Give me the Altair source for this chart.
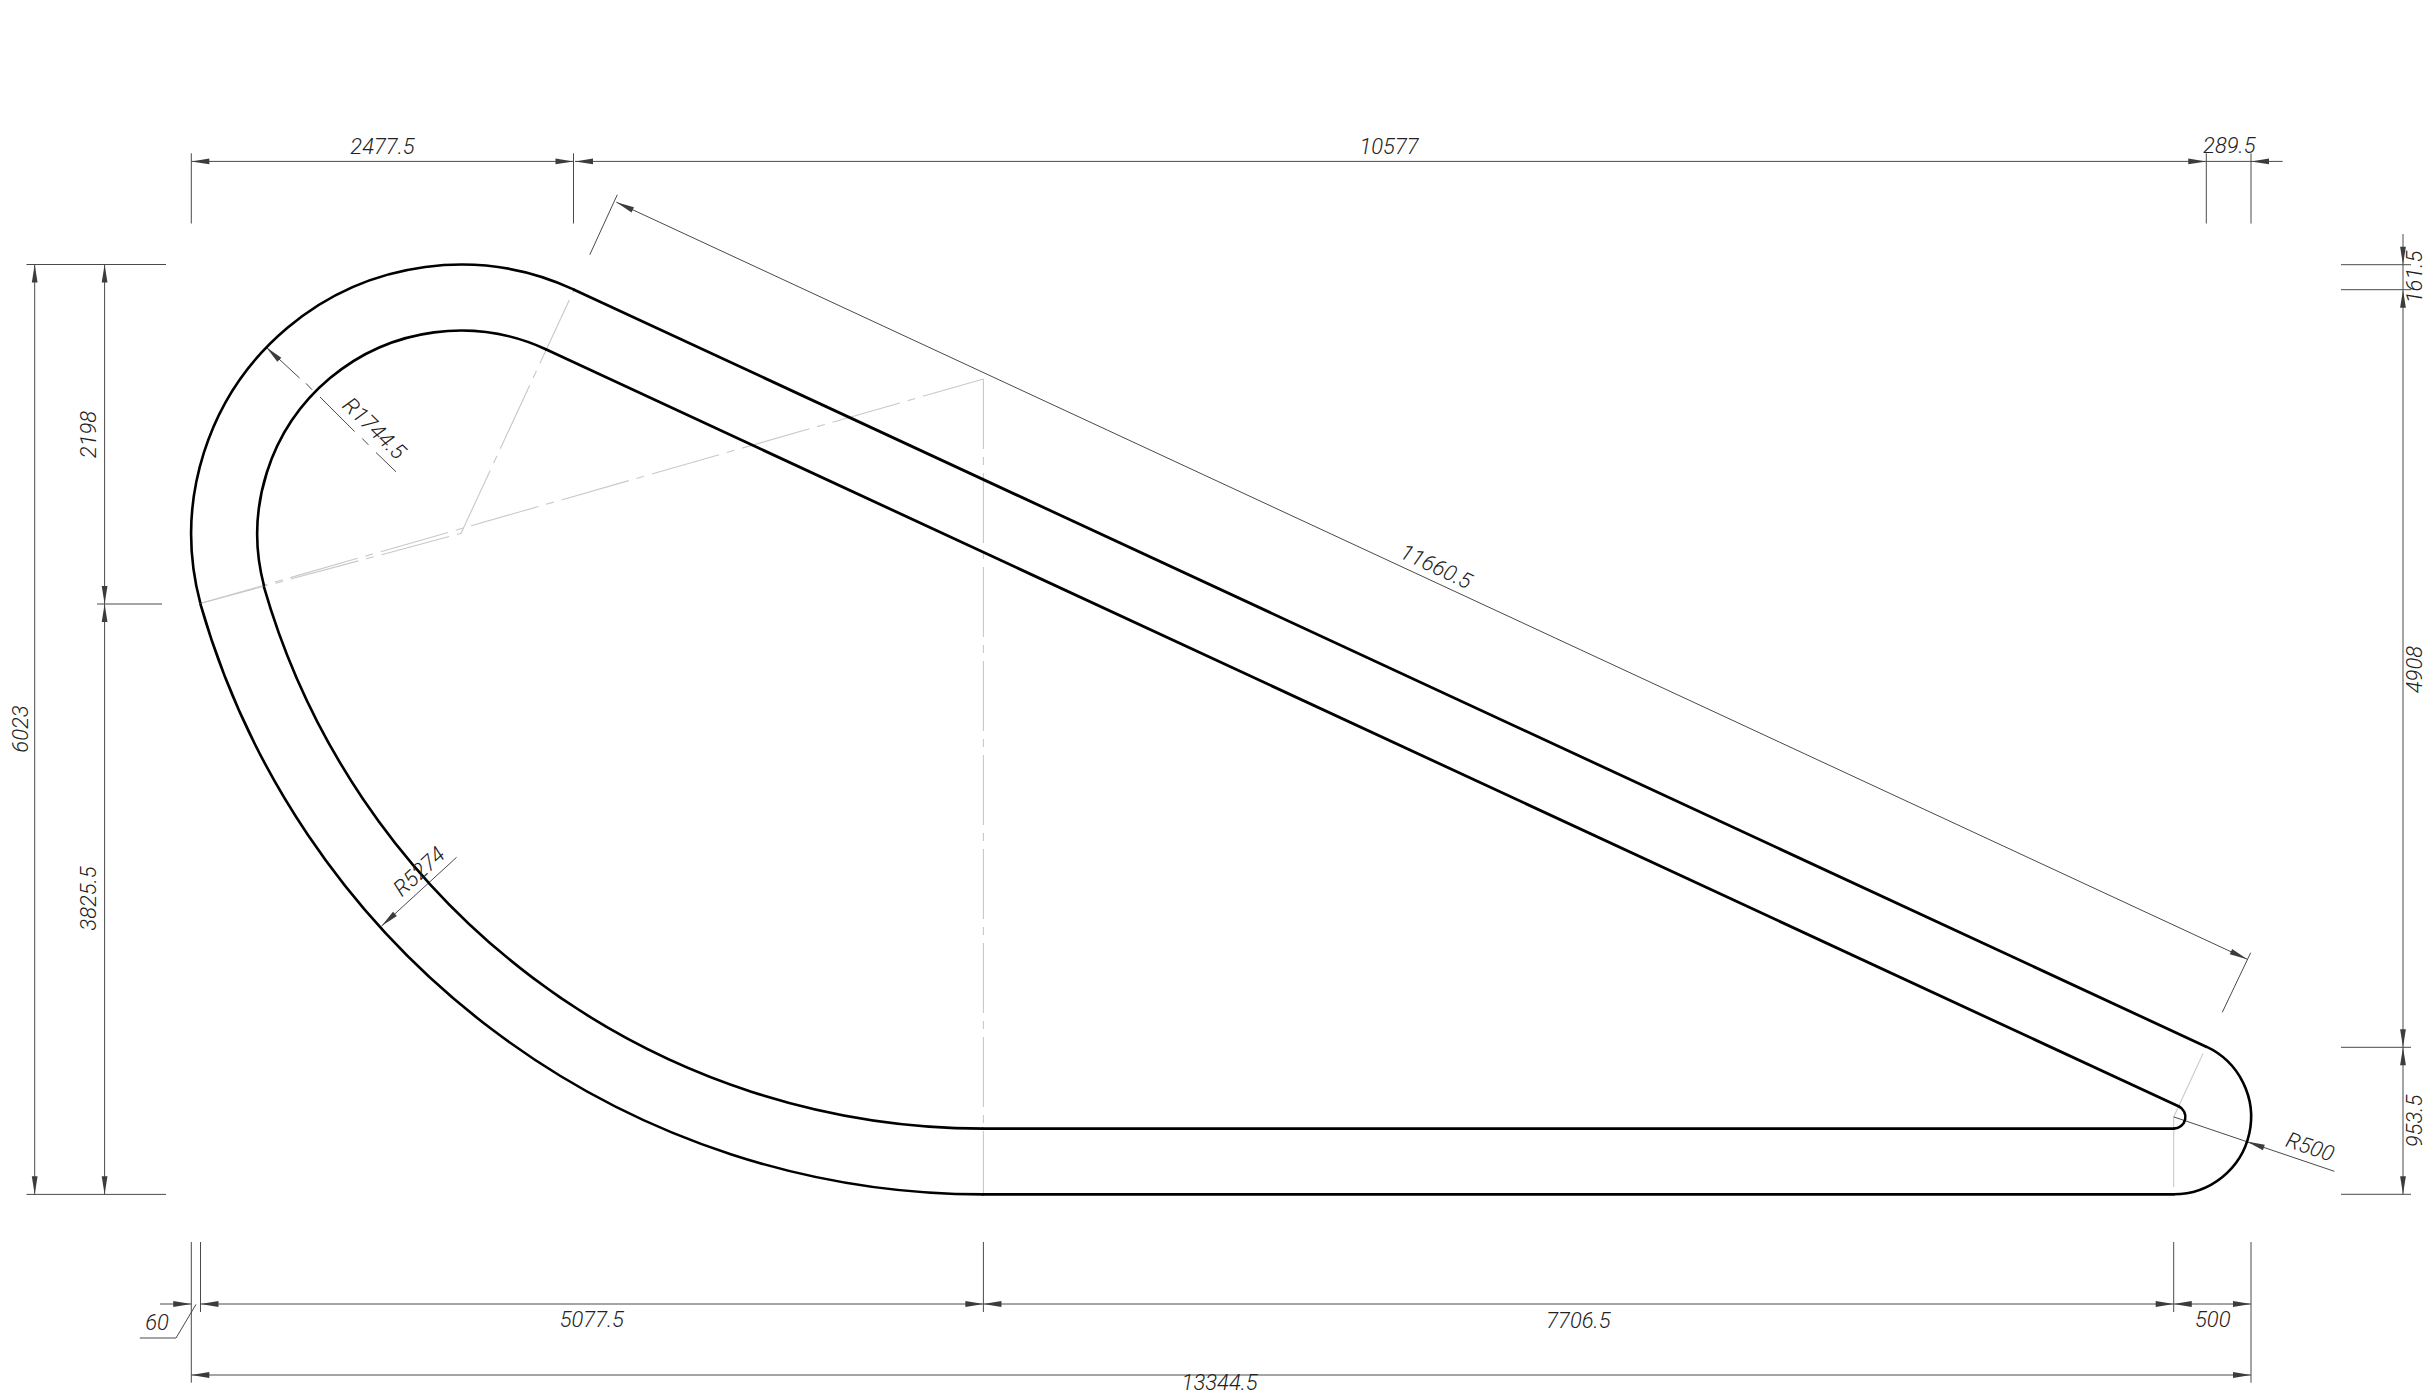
import math
import altair as alt
import pandas as pd

# Outline: straight edges (x1, y1, x2, y2)
outline_lines = [
    (574.1, 289.7, 2206.2, 1046.7),
    (546.3, 349.6, 2178.5, 1106.3),
    (983.4, 1194.4, 2173.7, 1194.4),
    (983.4, 1128.6, 2173.7, 1128.6),
]
# Outline: arcs (centre x, centre y, radius, start deg, end deg; 0 = up, clockwise)
outline_arcs = [
    (460.7, 534.0, 269.4, 255.07, 384.9),
    (460.7, 534.0, 203.4, 255.17, 384.9),
    (983.4, 380.0, 814.4, 180.0, 254.08),
    (983.4, 380.0, 748.6, 180.0, 254.0),
    (2173.7, 1116.9, 77.4, 24.9, 180.0),
    (2173.7, 1116.9, 11.7, 24.9, 180.0),
]
# Thin dimension lines
dim_lines = [
    # top
    (191.3, 153.3, 191.3, 223.5), (573.5, 153.3, 573.5, 223.5),
    (2206.3, 153.3, 2206.3, 223.5), (2251.0, 153.3, 2251.0, 223.5),
    (191.3, 161.4, 573.5, 161.4), (575.0, 161.4, 2282.7, 161.4),
    # left
    (26.5, 264.5, 166.0, 264.5), (26.5, 1194.4, 166.0, 1194.4), (97.0, 604.0, 162.0, 604.0),
    (34.7, 264.5, 34.7, 1194.4), (104.6, 264.5, 104.6, 1194.4),
    # right
    (2341.0, 264.7, 2411.0, 264.7), (2341.0, 289.7, 2411.0, 289.7),
    (2341.0, 1047.3, 2411.0, 1047.3), (2341.0, 1194.3, 2411.0, 1194.3),
    (2403.0, 234.0, 2403.0, 1194.3),
    # bottom
    (191.3, 1242.0, 191.3, 1382.7), (200.5, 1242.0, 200.5, 1312.0),
    (983.4, 1242.0, 983.4, 1312.0), (2173.7, 1242.0, 2173.7, 1312.0),
    (2251.0, 1242.0, 2251.0, 1382.7),
    (160.0, 1304.0, 191.3, 1304.0), (200.5, 1304.0, 2251.0, 1304.0),
    (191.3, 1375.0, 2251.0, 1375.0),
    (196.0, 1304.4, 176.0, 1338.0), (176.0, 1338.0, 139.8, 1338.0),
    # 11660.5
    (617.3, 194.7, 589.8, 254.7), (2250.7, 952.7, 2222.3, 1012.3),
    (616.4, 202.2, 2247.3, 959.3),
    # R1744.5 (broken)
    (266.3, 347.3, 299.5, 378.0), (306.0, 383.4, 312.0, 389.7),
    (320.0, 397.0, 354.6, 431.5), (362.2, 438.5, 368.4, 444.8),
    (376.0, 452.5, 396.0, 471.8),
    # R5274, R500
    (381.6, 926.0, 456.6, 857.3), (2173.7, 1116.9, 2334.3, 1171.3),
]
# Light centre lines
centre_lines = [
    (460.7, 534.0, 574.1, 289.7),
    (200.0, 603.5, 461.0, 533.3),
    (200.0, 603.5, 983.4, 379.0),
    (983.4, 379.0, 983.4, 1194.4),
    (2173.7, 1116.9, 2206.2, 1046.7),
    (2173.7, 1116.9, 2173.7, 1194.4),
]
# Arrowheads (tip x, tip y, pointing direction in degrees, clockwise from +x)
arrows = [
    (191.3, 161.4, 180), (573.5, 161.4, 0), (575.0, 161.4, 180), (2206.3, 161.4, 0), (2251.0, 161.4, 180),
    (34.7, 264.5, 270), (34.7, 1194.4, 90), (104.6, 264.5, 270), (104.6, 604.0, 90), (104.6, 604.0, 270),
    (104.6, 1194.4, 90),
    (2403.0, 264.7, 90), (2403.0, 289.7, 270), (2403.0, 1047.3, 90), (2403.0, 1047.3, 270), (2403.0, 1194.3, 90),
    (191.3, 1304.0, 0), (200.5, 1304.0, 180), (983.4, 1304.0, 0), (983.4, 1304.0, 180),
    (2173.7, 1304.0, 0), (2173.7, 1304.0, 180), (2251.0, 1304.0, 0),
    (191.3, 1375.0, 180), (2251.0, 1375.0, 0),
    (266.3, 347.3, 223.8), (381.6, 926.0, 137.7), (2246.8, 1141.6, 198.8),
    (616.4, 202.2, 204.9), (2247.3, 959.3, 24.9),
]
# Labels (text, x, y, rotation)
labels = [
    ("2477.5", 382.5, 146.5, 0), ("10577", 1389.0, 146.5, 0), ("289.5", 2229.3, 146.0, 0),
    ("11660.5", 1436.0, 567.0, 24.9),
    ("2198", 89.0, 434.5, 270), ("3825.5", 89.0, 898.5, 270), ("6023", 21.0, 729.0, 270),
    ("161.5", 2415.0, 277.0, 270), ("4908", 2415.0, 669.6, 270), ("953.5", 2415.0, 1121.0, 270),
    ("R1744.5", 374.0, 428.7, 44), ("R5274", 419.4, 871.8, 317.5), ("R500", 2310.0, 1147.3, 18.8),
    ("5077.5", 591.8, 1320.4, 0), ("7706.5", 1578.4, 1320.5, 0), ("500", 2212.7, 1320.0, 0),
    ("13344.5", 1219.6, 1383.0, 0), ("60", 157.0, 1322.7, 0),
]

seg_cols = ["x", "y", "x2", "y2"]
outline_df = pd.DataFrame(outline_lines, columns=seg_cols)
dim_df = pd.DataFrame(dim_lines, columns=seg_cols)
centre_df = pd.DataFrame(centre_lines, columns=seg_cols)
arc_df = pd.DataFrame(outline_arcs, columns=["x", "y", "r", "a1", "a2"])
arc_df["t1"] = arc_df["a1"].map(math.radians)
arc_df["t2"] = arc_df["a2"].map(math.radians)
arrow_df = pd.DataFrame(arrows, columns=["x", "y", "a"])
label_df = pd.DataFrame(labels, columns=["t", "x", "y", "a"])

X = alt.X("x:Q", axis=None, scale=alt.Scale(domain=[8, 2428], nice=False, zero=False))
Y = alt.Y("y:Q", axis=None, scale=alt.Scale(domain=[1391, 8], nice=False, zero=False))


def segments(df, **mark):
    return alt.Chart(df).mark_rule(**mark).encode(x=X, y=Y, x2="x2:Q", y2="y2:Q")


centre = segments(centre_df, color="#c8c8c8", strokeWidth=1.1, strokeDash=[70, 8, 8, 8])
dims = segments(dim_df, color="#4a4a4a", strokeWidth=1)
edges = segments(outline_df, color="#000000", strokeWidth=2.8, strokeCap="round")
arcs = alt.Chart(arc_df).mark_arc(filled=False, stroke="#000000", strokeWidth=2.6).encode(
    x=X, y=Y,
    theta=alt.Theta("t1:Q", scale=None), theta2="t2:Q",
    radius=alt.Radius("r:Q", scale=None), radius2="r:Q",
)
heads = alt.Chart(arrow_df).mark_point(
    filled=True, opacity=1, color="#3c3c3c", size=1300,
    shape="M0,0L-1,-0.16L-1,0.16Z",
).encode(x=X, y=Y, angle=alt.Angle("a:Q", scale=None))
texts = alt.Chart(label_df).mark_text(
    font="Roboto", fontStyle="italic", fontWeight=300, fontSize=22,
    color="#222222", align="center", baseline="middle",
).encode(x=X, y=Y, text="t:N", angle=alt.Angle("a:Q", scale=None))

chart = (
    alt.layer(centre, dims, heads, edges, arcs, texts)
    .properties(width=2420, height=1383, padding=0, autosize=alt.AutoSizeParams(type="none"))
    .configure_view(stroke=None)
)
chart.save("out.html", embed_options={"renderer": "svg", "actions": False})
